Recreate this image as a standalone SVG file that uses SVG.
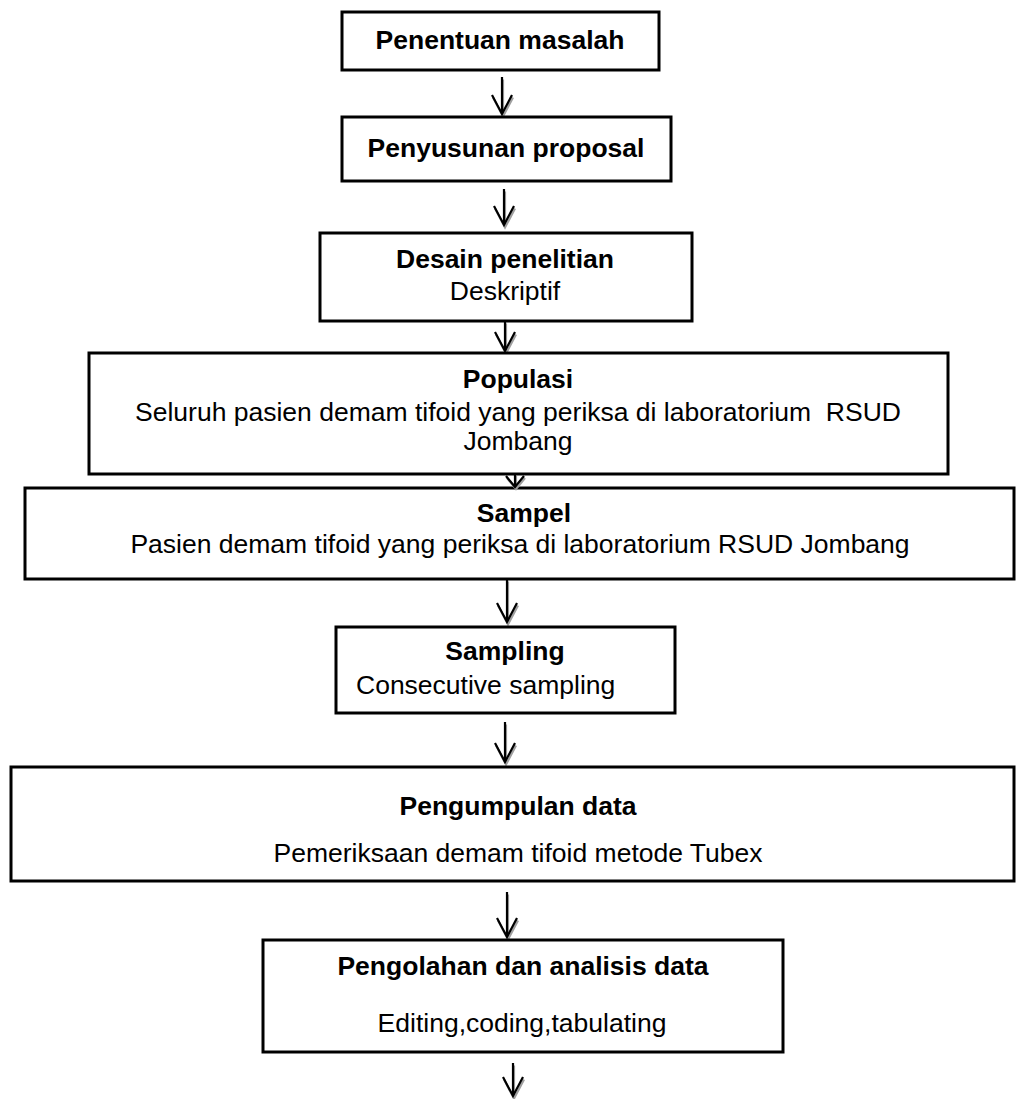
<svg xmlns="http://www.w3.org/2000/svg" width="1016" height="1099" viewBox="0 0 1016 1099">
<style>
.box{fill:#fff;stroke:#000;stroke-width:3}
.t{font-family:"Liberation Sans",Arial,sans-serif;font-size:26.5px;fill:#000;text-anchor:middle}
.b{font-weight:bold}
.c{fill:none;stroke:#000;stroke-width:2.2}
.s{fill:none;stroke:#a0a0a0;stroke-width:2.2}
</style>
<defs>
<path id="arr" d="M0,0 V-1"/>
<path id="hd" d="M-10,-19 L0,0 L10,-19"/>
</defs>
<rect width="1016" height="1099" fill="#fff"/>
<g id="connectors">
<g class="s" transform="translate(1,2.5)">
<path d="M502,77 V114 M492,95 L502,114 L512,95"/>
<path d="M504,189 V225 M494,206 L504,225 L514,206"/>
<path d="M505,321 V351 M495,332 L505,351 L515,332"/>
<path d="M507,579 V622 M497,603 L507,622 L517,603"/>
<path d="M505,722 V762 M495,743 L505,762 L515,743"/>
<path d="M507,892 V937 M497,918 L507,937 L517,918"/>
<path d="M513,1063 V1096 M503,1077 L513,1096 L523,1077"/>
</g>
<path class="c" d="M502,77 V114 M492,95 L502,114 L512,95"/>
<path class="c" d="M504,189 V225 M494,206 L504,225 L514,206"/>
<path class="c" d="M505,321 V351 M495,332 L505,351 L515,332"/>
<path class="c" d="M507,579 V622 M497,603 L507,622 L517,603"/>
<path class="c" d="M505,722 V762 M495,743 L505,762 L515,743"/>
<path class="c" d="M507,892 V937 M497,918 L507,937 L517,918"/>
<path class="c" d="M513,1063 V1096 M503,1077 L513,1096 L523,1077"/>
</g>
<g id="n1">
<rect class="box" x="342" y="12" width="317" height="58"/>
<text class="t b" x="500" y="49">Penentuan masalah</text>
</g>
<g id="n2">
<rect class="box" x="342" y="117" width="329" height="64"/>
<text class="t b" x="506" y="157">Penyusunan proposal</text>
</g>
<g id="n3">
<rect class="box" x="320" y="233" width="372" height="88"/>
<text class="t b" x="505" y="268">Desain penelitian</text>
<text class="t" x="505" y="300">Deskriptif</text>
</g>
<g id="n4">
<rect class="box" x="89" y="353" width="859" height="121"/>
<text class="t b" x="518" y="388">Populasi</text>
<text class="t" x="518" y="421" xml:space="preserve">Seluruh pasien demam tifoid yang periksa di laboratorium  RSUD</text>
<text class="t" x="518" y="450">Jombang</text>
</g>
<g id="n5">
<rect class="box" x="25" y="488" width="989" height="91"/>
<text class="t b" x="524" y="522">Sampel</text>
<text class="t" x="520" y="553">Pasien demam tifoid yang periksa di laboratorium RSUD Jombang</text>
</g>
<g id="c4-5">
<path class="s" d="M516,476 V489 M507,478 L516,489 L525,478"/>
<path class="c" d="M515,474 V487 M506,476 L515,487 L524,476"/>
</g>
<g id="n6">
<rect class="box" x="336" y="627" width="339" height="86"/>
<text class="t b" x="505" y="660">Sampling</text>
<text class="t" x="356" y="694" style="text-anchor:start">Consecutive sampling</text>
</g>
<g id="n7">
<rect class="box" x="11" y="767" width="1003" height="114"/>
<text class="t b" x="518" y="815">Pengumpulan data</text>
<text class="t" x="518" y="862">Pemeriksaan demam tifoid metode Tubex</text>
</g>
<g id="n8">
<rect class="box" x="263" y="940" width="520" height="112"/>
<text class="t b" x="523" y="975">Pengolahan dan analisis data</text>
<text class="t" x="522" y="1032">Editing,coding,tabulating</text>
</g>
</svg>
